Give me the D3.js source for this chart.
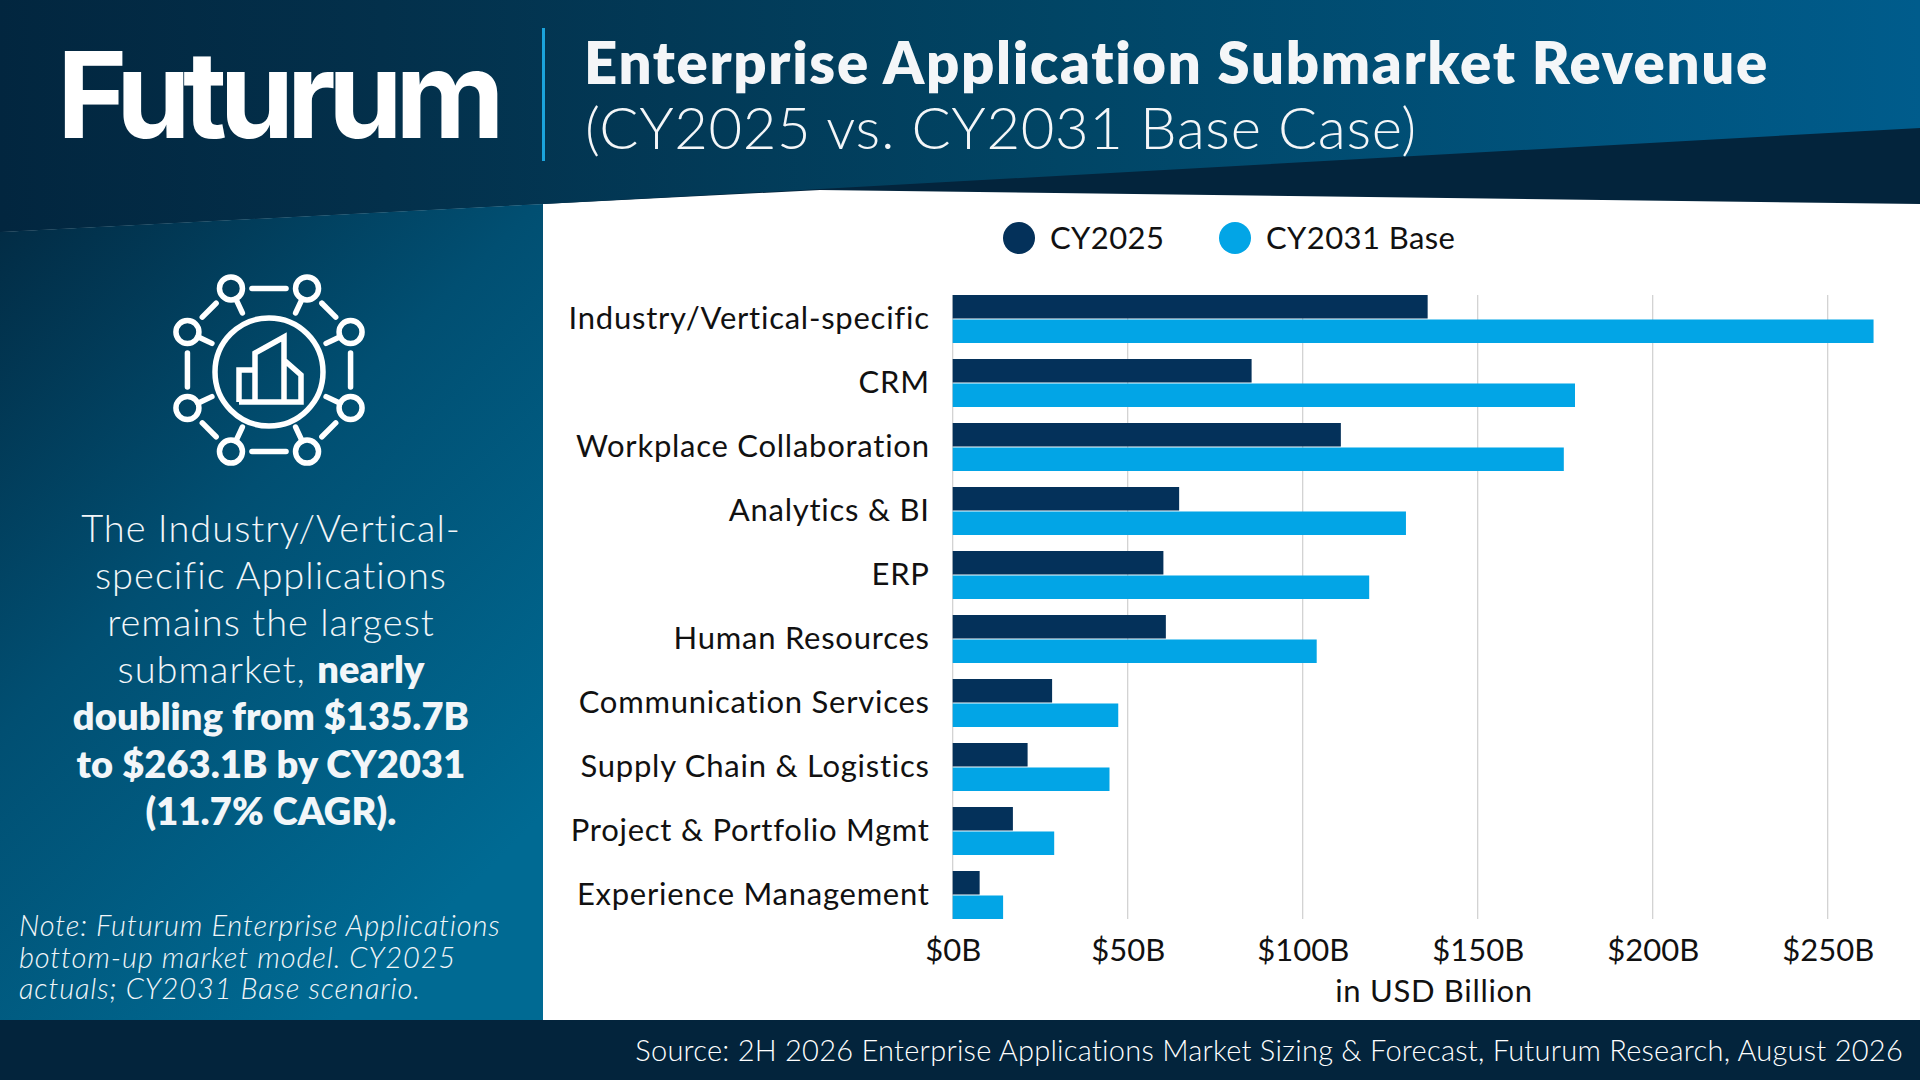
<!DOCTYPE html>
<html>
<head>
<meta charset="utf-8">
<script src="https://cdn.jsdelivr.net/npm/d3@7"></script>
<style>
  html, body { margin: 0; padding: 0; background: #fff; }
  svg { display: block; }
  text { font-family: Lato, sans-serif; }
</style>
</head>
<body>
<div id="chart"></div>
<script>
const categories = ['Industry/Vertical-specific', 'CRM', 'Workplace Collaboration', 'Analytics & BI', 'ERP',
    'Human Resources', 'Communication Services', 'Supply Chain & Logistics', 'Project & Portfolio Mgmt', 'Experience Management'];
const seriesNames = ['CY2025', 'CY2031 Base'];
const cy2025 = [135.7, 85.4, 110.9, 64.7, 60.2, 60.9, 28.4, 21.4, 17.2, 7.7];
const cy2031 = [263.1, 177.8, 174.6, 129.5, 119, 104, 47.3, 44.8, 29, 14.4];
const xTicks = [0, 50, 100, 150, 200, 250];
const sideLines = [
    [['The Industry/Vertical-', 300]],
    [['specific Applications', 300]],
    [['remains the largest', 300]],
    [['submarket, ', 300], ['nearly', 800]],
    [['doubling from $135.7B', 800]],
    [['to $263.1B by CY2031', 800]],
    [['(11.7% CAGR).', 800]]
];
const noteLines = ['Note: Futurum Enterprise Applications', 'bottom-up market model. CY2025', 'actuals; CY2031 Base scenario.'];
const colors = { dark: '#04315a', light: '#02a5e6' };

const svg = d3.select('#chart').append('svg').attr('width', 1920).attr('height', 1080);
const defs = svg.append('defs');

function addGradient(id, x1, y1, x2, y2, stops) {
    const g = defs.append('linearGradient').attr('id', id).attr('gradientUnits', 'userSpaceOnUse')
        .attr('x1', x1).attr('y1', y1).attr('x2', x2).attr('y2', y2);
    stops.forEach(s => g.append('stop').attr('offset', s[0]).attr('stop-color', s[1]));
}
addGradient('headerGrad', 0, 100, 1920, 60, [[0, '#02263f'], [0.2, '#03304b'], [0.55, '#014565'], [1, '#005c8c']]);
addGradient('sideGrad', 0, 230, 560, 800, [[0, '#022c45'], [0.45, '#014f72'], [1, '#006a93']]);

// background panels
svg.append('rect').attr('width', 1920).attr('height', 1080).attr('fill', '#fff');
svg.append('polygon').attr('points', '0,0 1920,0 1920,204 820,190 543,204 0,232').attr('fill', '#03243c');
svg.append('polygon').attr('points', '0,0 1920,0 1920,128 820,189 543,204 0,232').attr('fill', 'url(#headerGrad)');
svg.append('polygon').attr('points', '0,232 543,204 543,1020 0,1020').attr('fill', 'url(#sideGrad)');
svg.append('rect').attr('x', 0).attr('y', 1020).attr('width', 1920).attr('height', 60).attr('fill', '#03243c');
svg.append('rect').attr('x', 542).attr('y', 28).attr('width', 3).attr('height', 133).attr('fill', '#1ba3dc');

// header text
svg.append('text').attr('x', 57).attr('y', 138).attr('fill', '#fff')
    .style('font-family', 'Inter, sans-serif').style('font-weight', 700).style('font-size', '120px').style('letter-spacing', '-7.5px')
    .text('Futurum');
svg.append('text').attr('x', 584).attr('y', 84).attr('fill', '#f4f6f8')
    .style('font-weight', 800).style('font-size', '58px').style('letter-spacing', '1.7px')
    .text('Enterprise Application Submarket Revenue');
svg.append('text').attr('x', 585).attr('y', 149).attr('fill', '#f4f6f8')
    .style('font-weight', 300).style('font-size', '58px').style('letter-spacing', '0.63px')
    .text('(CY2025 vs. CY2031 Base Case)');

// icon
const icon = svg.append('g').attr('transform', 'translate(269,370)')
    .attr('fill', 'none').attr('stroke', '#fff').attr('stroke-width', 5.5).attr('stroke-linecap', 'round');
icon.append('circle').attr('cy', 2).attr('r', 54);
const nodeAngles = [25, 65, 115, 155, 205, 245, 295, 335].map(d => d * Math.PI / 180);
const nodeR = 90, smallR = 11.5;
nodeAngles.forEach((a, i) => {
    const nx = nodeR * Math.cos(a), ny = nodeR * Math.sin(a);
    icon.append('circle').attr('cx', nx).attr('cy', ny).attr('r', smallR);
    // spoke to big circle
    icon.append('line')
        .attr('x1', (nodeR - smallR) * Math.cos(a)).attr('y1', (nodeR - smallR) * Math.sin(a))
        .attr('x2', 63 * Math.cos(a)).attr('y2', 63 * Math.sin(a));
    // link to the next node
    const b = nodeAngles[(i + 1) % 8];
    const mx = nodeR * Math.cos(b), my = nodeR * Math.sin(b);
    const len = Math.hypot(mx - nx, my - ny), ux = (mx - nx) / len, uy = (my - ny) / len;
    icon.append('line')
        .attr('x1', nx + ux * 21).attr('y1', ny + uy * 21)
        .attr('x2', mx - ux * 21).attr('y2', my - uy * 21);
});
icon.append('path').attr('stroke-linejoin', 'miter').attr('stroke-linecap', 'butt')
    .attr('d', 'M-30,32 V0 H-14 V32 M-14,0 V-17 L15,-33 V32 M15,-10 L32,5 V32 H-30');

// side text
sideLines.forEach((line, i) => {
    const t = svg.append('text').attr('x', 271).attr('y', 542 + i * 47.1)
        .attr('text-anchor', 'middle').attr('fill', '#f2f6f9').style('font-size', '38px');
    line.forEach(p => t.append('tspan').style('font-weight', p[1])
        .style('letter-spacing', p[1] === 300 ? '1px' : '0.1px').text(p[0]));
});
noteLines.forEach((line, i) => {
    svg.append('text').attr('x', 19).attr('y', 936 + i * 31.5).attr('fill', '#f2f6f9')
        .style('font-style', 'italic').style('font-weight', 300).style('font-size', '29px').style('letter-spacing', '0.87px').text(line);
});
svg.append('text').attr('x', 1903).attr('y', 1061).attr('text-anchor', 'end').attr('fill', '#fff')
    .style('font-weight', 300).style('font-size', '29px').style('letter-spacing', '0.26px')
    .text('Source: 2H 2026 Enterprise Applications Market Sizing & Forecast, Futurum Research, August 2026');

// chart
const x = d3.scaleLinear().domain([0, 250]).range([952.7, 1827.7]);
const y = d3.scaleBand().domain(categories).range([295, 919]).paddingInner(0.25).paddingOuter(0);
const ySeries = d3.scaleBand().domain(seriesNames).range([0, y.bandwidth()]).paddingInner(0.04);

svg.append('g').selectAll('line').data(xTicks).enter().append('line')
    .attr('x1', d => x(d)).attr('x2', d => x(d))
    .attr('y1', y.range()[0]).attr('y2', y.range()[1])
    .attr('stroke', '#cfcfcf').attr('stroke-width', 1.2);

const xAxis = svg.append('g').attr('transform', 'translate(0,919)')
    .call(d3.axisBottom(x).tickValues(xTicks).tickFormat(d => '$' + d + 'B').tickSize(0).tickPadding(20));
xAxis.select('.domain').remove();
xAxis.selectAll('text').attr('fill', '#111').style('font-size', '31px').style('font-family', 'Lato, sans-serif');

const yAxis = svg.append('g').attr('transform', 'translate(952.7,0)')
    .call(d3.axisLeft(y).tickSize(0).tickPadding(23));
yAxis.select('.domain').remove();
yAxis.selectAll('text').attr('fill', '#111').style('font-size', '31px').style('letter-spacing', '0.75px').style('font-family', 'Lato, sans-serif');

svg.append('text').attr('x', 1434).attr('y', 1002).attr('text-anchor', 'middle').attr('fill', '#111')
    .style('font-size', '31px').style('letter-spacing', '0.7px').text('in USD Billion');

[cy2025, cy2031].forEach((values, s) => {
    svg.append('g').selectAll('rect').data(values).enter().append('rect')
        .attr('x', x(0))
        .attr('y', (d, i) => y(categories[i]) + ySeries(seriesNames[s]))
        .attr('width', d => x(d) - x(0))
        .attr('height', ySeries.bandwidth())
        .attr('fill', s === 0 ? colors.dark : colors.light);
});

// legend
const legendX = d3.scalePoint().domain(seriesNames).range([1019, 1235]);
seriesNames.forEach((name, s) => {
    svg.append('circle').attr('cx', legendX(name)).attr('cy', 238).attr('r', 16)
        .attr('fill', s === 0 ? colors.dark : colors.light);
    svg.append('text').attr('x', legendX(name) + 31).attr('y', 249).attr('fill', '#111')
        .style('font-size', '31px').style('letter-spacing', '0.4px').text(name);
});
</script>
</body>
</html>
